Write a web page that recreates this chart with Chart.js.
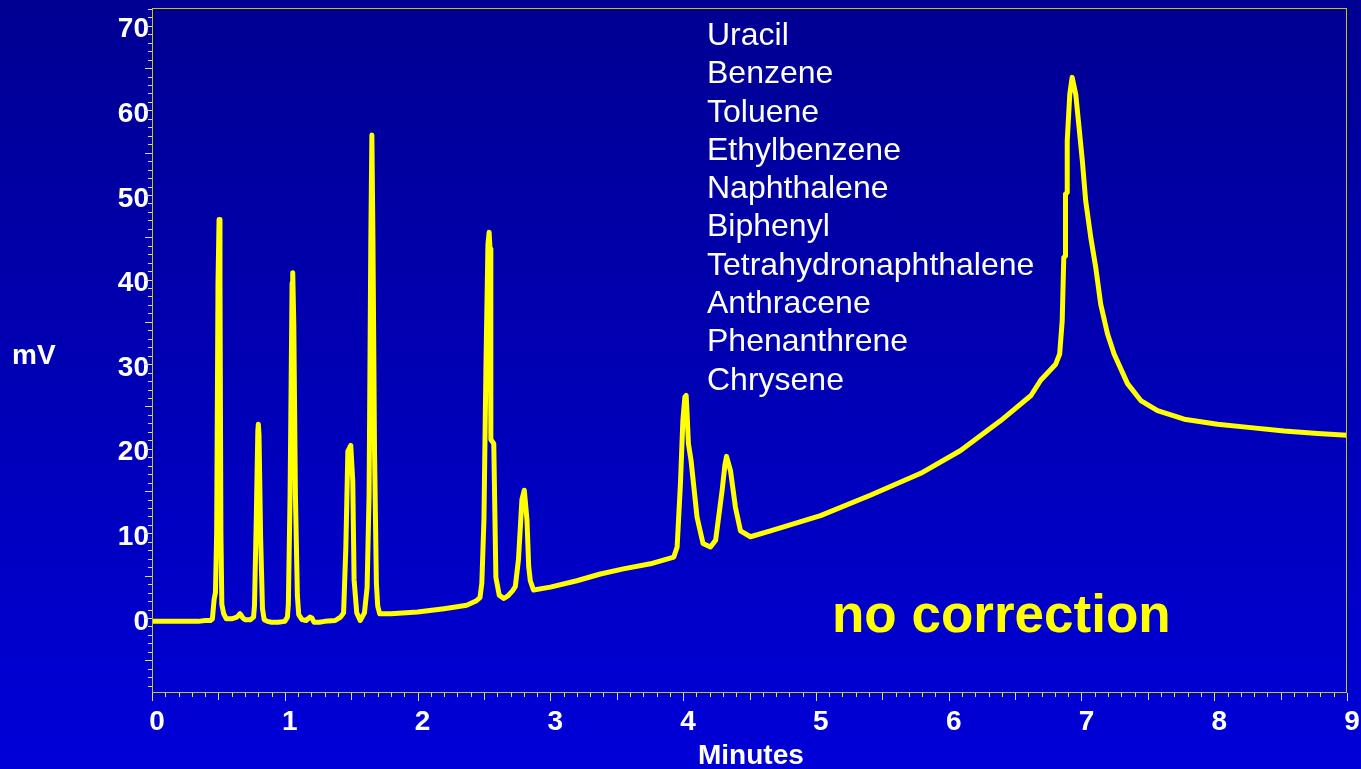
<!DOCTYPE html>
<html>
<head>
<meta charset="utf-8">
<title>Chromatogram – no correction</title>
<script src="https://cdn.jsdelivr.net/npm/chart.js@4.4.1/dist/chart.umd.min.js"></script>
<style>
  html, body { margin: 0; padding: 0; }
  body {
    width: 1361px; height: 769px; overflow: hidden; position: relative;
    background: linear-gradient(to bottom, #000092 0%, #0000d8 100%);
    font-family: 'Liberation Sans', Arial, Helvetica, sans-serif;
  }
  #chart { position: absolute; left: 0; top: 0; }
  .txt { position: absolute; white-space: nowrap; margin: 0; }
  #compounds {
    left: 707px; top: 15px; color: #ffffff;
    font-size: 32px; line-height: 38.3px; font-weight: normal;
  }
  #note {
    left: 832px; top: 587px; color: #ffff00;
    font-size: 53px; line-height: 53px; font-weight: bold;
  }
  #yTitle {
    left: 12px; top: 341px; color: #ffffff;
    font-size: 28px; line-height: 28px; font-weight: bold;
  }
  #xTitle {
    left: 698px; top: 741px; color: #ffffff;
    font-size: 28px; line-height: 28px; font-weight: bold;
  }
</style>
</head>
<body>
<canvas id="chart" width="1361" height="769"></canvas>
<div id="compounds" class="txt"></div>
<div id="note" class="txt">no correction</div>
<div id="yTitle" class="txt">mV</div>
<div id="xTitle" class="txt">Minutes</div>
<script>
// Detector trace: retention time (min) and signal (mV)
const timeMin = [
  0.00, 0.20, 0.35, 0.40, 0.44, 0.455, 0.468, 0.478, 0.487, 0.497,
  0.505, 0.512, 0.519, 0.526, 0.540, 0.560, 0.600, 0.640, 0.663, 0.685,
  0.700, 0.740, 0.765, 0.772, 0.785, 0.797, 0.801, 0.806, 0.818, 0.832,
  0.845, 0.870, 0.900, 0.950, 1.000, 1.020, 1.027, 1.040, 1.055, 1.060,
  1.068, 1.080, 1.095, 1.105, 1.130, 1.160, 1.190, 1.205, 1.220, 1.260,
  1.300, 1.380, 1.420, 1.443, 1.460, 1.475, 1.497, 1.512, 1.522, 1.542,
  1.568, 1.600, 1.620, 1.635, 1.648, 1.656, 1.664, 1.676, 1.690, 1.700,
  1.715, 1.800, 2.000, 2.200, 2.370, 2.440, 2.470, 2.484, 2.500, 2.515,
  2.530, 2.539, 2.546, 2.552, 2.574, 2.590, 2.615, 2.650, 2.680, 2.715,
  2.736, 2.760, 2.786, 2.804, 2.824, 2.837, 2.849, 2.874, 3.000, 3.200,
  3.377, 3.550, 3.754, 3.930, 3.955, 3.980, 3.998, 4.013, 4.023, 4.030,
  4.040, 4.060, 4.105, 4.150, 4.206, 4.245, 4.294, 4.315, 4.327, 4.357,
  4.394, 4.432, 4.507, 4.658, 5.035, 5.410, 5.790, 6.090, 6.390, 6.620,
  6.693, 6.806, 6.836, 6.855, 6.867, 6.880, 6.880, 6.893, 6.893, 6.912,
  6.930, 6.957, 6.982, 7.007, 7.032, 7.070, 7.108, 7.145, 7.196, 7.246,
  7.347, 7.447, 7.573, 7.774, 8.025, 8.276, 8.527, 8.779, 9.000
];
const signalMv = [
  -0.4, -0.4, -0.4, -0.3, -0.3, -0.1, 2.2, 3.0, 10.0, 39.5,
  47.1, 39.5, 10.0, 1.6, 0.5, -0.1, -0.1, 0.1, 0.5, 0.0,
  -0.2, -0.2, 0.1, 1.5, 11.5, 22.1, 22.9, 21.6, 9.6, 1.1,
  -0.2, -0.4, -0.5, -0.5, -0.4, 0.1, 1.6, 14.6, 39.6, 40.8,
  34.6, 14.6, 2.6, 0.4, -0.2, -0.3, 0.1, 0.0, -0.5, -0.5,
  -0.4, -0.3, 0.1, 0.6, 8.4, 19.7, 20.4, 16.2, 4.5, 0.6,
  -0.3, 0.6, 3.6, 14.6, 44.6, 57.1, 44.6, 19.6, 4.1, 1.4,
  0.5, 0.5, 0.7, 1.1, 1.5, 2.0, 2.4, 4.1, 11.6, 29.6,
  44.1, 45.6, 43.6, 21.1, 20.6, 4.8, 2.7, 2.3, 2.6, 3.2,
  3.7, 6.9, 14.0, 15.1, 11.6, 6.1, 4.4, 3.3, 3.65, 4.4,
  5.2, 5.8, 6.4, 7.2, 8.4, 15.9, 23.3, 26.1, 26.3, 24.1,
  20.6, 18.6, 11.9, 8.8, 8.4, 9.2, 15.1, 18.1, 19.1, 17.4,
  13.1, 10.3, 9.6, 10.3, 12.1, 14.5, 17.1, 19.8, 23.3, 26.3,
  28.1, 30.0, 31.2, 35.1, 42.6, 42.8, 50.1, 50.3, 56.4, 61.9,
  63.9, 61.9, 58.0, 54.0, 49.3, 45.0, 41.4, 37.1, 33.6, 31.2,
  27.7, 25.7, 24.5, 23.5, 22.9, 22.5, 22.1, 21.8, 21.6
];

// Axis tick labels
const xTickValues = [0, 1, 2, 3, 4, 5, 6, 7, 8, 9];
const yTickValues = [0, 10, 20, 30, 40, 50, 60, 70];

// Compounds in elution order
const compounds = [
  'Uracil', 'Benzene', 'Toluene', 'Ethylbenzene', 'Naphthalene',
  'Biphenyl', 'Tetrahydronaphthalene', 'Anthracene', 'Phenanthrene', 'Chrysene'
];

document.getElementById('compounds').innerHTML =
  compounds.map(c => '<div>' + c + '</div>').join('');

Chart.defaults.font.family = "'Liberation Sans', Arial, Helvetica, sans-serif";

// Plot frame plus major/minor tick marks on both axes
const frameAndTicks = {
  id: 'frameAndTicks',
  afterDraw(chart) {
    const { ctx, chartArea: a, scales: { x, y } } = chart;
    ctx.save();
    ctx.strokeStyle = '#d8d8ee';
    ctx.lineWidth = 1;
    ctx.beginPath();
    for (let k = 0; k <= 90; k++) {
      const px = Math.round(x.getPixelForValue(k / 10)) + 0.5;
      const len = k % 10 === 0 ? 8 : (k % 5 === 0 ? 7 : 4);
      ctx.moveTo(px, a.bottom + 1);
      ctx.lineTo(px, a.bottom + 1 + len);
    }
    for (let k = -8; k <= 72; k++) {
      const py = Math.round(y.getPixelForValue(k)) + 0.5;
      const len = k % 10 === 0 ? 8 : (k % 5 === 0 ? 7 : 4);
      ctx.moveTo(a.left, py);
      ctx.lineTo(a.left - len, py);
    }
    ctx.stroke();
    ctx.strokeStyle = '#c8c800';
    ctx.lineWidth = 1;
    ctx.strokeRect(a.left + 0.5, a.top + 0.5, a.right - a.left - 1, a.bottom - a.top);
    ctx.restore();
  }
};

new Chart(document.getElementById('chart'), {
  type: 'line',
  data: {
    datasets: [{
      data: timeMin.map((t, i) => ({ x: t, y: signalMv[i] })),
      borderColor: '#ffff00',
      borderWidth: 5,
      borderJoinStyle: 'round',
      borderCapStyle: 'round',
      pointRadius: 0,
      tension: 0,
      fill: false
    }]
  },
  options: {
    responsive: false,
    animation: false,
    devicePixelRatio: 1,
    layout: { padding: { top: 8, right: 14, left: 0, bottom: 0 } },
    plugins: { legend: { display: false }, tooltip: { enabled: false } },
    scales: {
      x: {
        type: 'linear', min: 0, max: 9,
        afterBuildTicks: s => { s.ticks = xTickValues.map(v => ({ value: v })); },
        afterFit: s => { s.height = 77; s.paddingLeft = 0; s.paddingRight = 0; },
        grid: { display: false, drawTicks: false },
        border: { display: false },
        ticks: {
          color: '#ffffff', font: { size: 28, weight: 'bold' },
          padding: 13, labelOffset: 5, maxRotation: 0, autoSkip: false,
          callback: v => String(v)
        }
      },
      y: {
        type: 'linear', min: -8.75, max: 72.1,
        afterBuildTicks: s => { s.ticks = yTickValues.map(v => ({ value: v })); },
        afterFit: s => { s.width = 152; s.paddingTop = 0; s.paddingBottom = 0; },
        grid: { display: false, drawTicks: false },
        border: { display: false },
        ticks: {
          color: '#ffffff', font: { size: 28, weight: 'bold' },
          padding: 3, labelOffset: 4, autoSkip: false,
          callback: v => String(v)
        }
      }
    }
  },
  plugins: [frameAndTicks]
});
</script>
</body>
</html>
